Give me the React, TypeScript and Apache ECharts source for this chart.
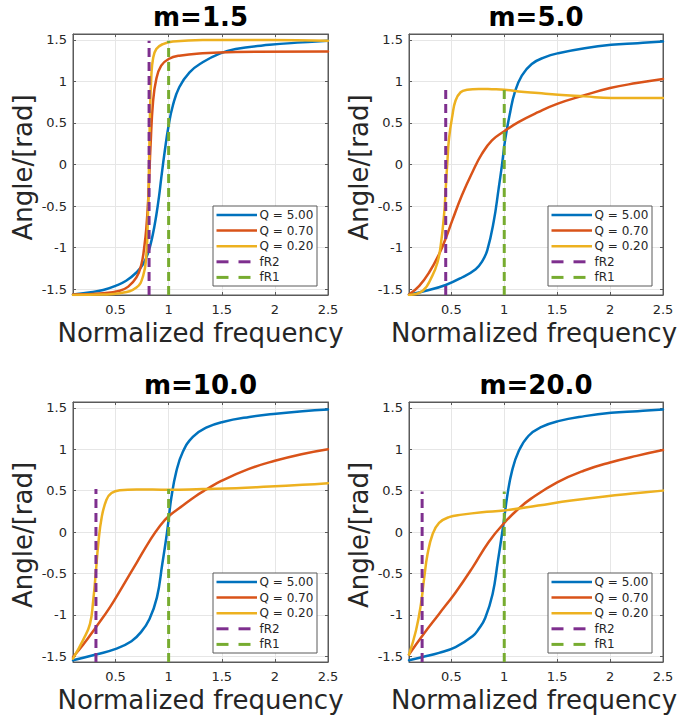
import React, { useEffect, useRef } from "react";
import * as echarts from "echarts";

// ---------- data ----------
const TITLES = ["m=1.5", "m=5.0", "m=10.0", "m=20.0"];
const Q_LABELS = ["Q = 5.00", "Q = 0.70", "Q = 0.20"];
const MARKER_LABELS = ["fR2", "fR1"];
const X_LABEL = "Normalized frequency";
const Y_LABEL = "Angle/[rad]";
const X_TICKS = [0.5, 1, 1.5, 2, 2.5];
const Y_TICKS = [-1.5, -1, -0.5, 0, 0.5, 1, 1.5];
const X_RANGE = [0.1, 2.5];
const Y_RANGE = [-1.5708, 1.5708];
const FR2 = [0.816, 0.447, 0.316, 0.224];
const FR1 = [1, 1, 1, 1];
const MARKER_TOP = [1.49, 0.9, 0.52, 0.49];

// m = 1.5
const M15_Q500 = [[0.1,-1.564],[0.25,-1.54],[0.384,-1.51],[0.5,-1.46],[0.6,-1.4],[0.697,-1.3],[0.76,-1.2],[0.81,-1.05],[0.85,-0.85],[0.884,-0.61],[0.91,-0.38],[0.93,-0.17],[0.9625,0.15],[1.0,0.47],[1.04,0.71],[1.1,0.93],[1.197,1.11],[1.32,1.23],[1.48,1.335],[1.63,1.39],[1.95,1.44],[2.26,1.47],[2.5,1.49]];
const M15_Q070 = [[0.1,-1.566],[0.384,-1.55],[0.54,-1.52],[0.62,-1.47],[0.697,-1.36],[0.744,-1.2],[0.77,-1.0],[0.79,-0.77],[0.81,-0.37],[0.83,0.23],[0.853,0.75],[0.884,1.03],[0.93,1.19],[1.0,1.27],[1.1,1.31],[1.32,1.34],[1.63,1.355],[2.5,1.36]];
const M15_Q020 = [[0.1,-1.57],[0.384,-1.565],[0.54,-1.55],[0.697,-1.48],[0.76,-1.34],[0.79,-1.1],[0.806,-0.57],[0.816,0.03],[0.825,0.63],[0.8375,1.07],[0.853,1.27],[0.884,1.39],[0.947,1.45],[1.04,1.48],[1.32,1.5],[1.95,1.5],[2.5,1.49]];

// m = 5.0
const M5_Q500 = [[0.1,-1.565],[0.26,-1.52],[0.447,-1.45],[0.6,-1.36],[0.73,-1.26],[0.79,-1.17],[0.84,-1.03],[0.9,-0.69],[0.947,-0.29],[0.978,-0.01],[1.01,0.31],[1.056,0.63],[1.1,0.87],[1.166,1.07],[1.26,1.21],[1.38,1.29],[1.51,1.34],[1.76,1.4],[2.01,1.44],[2.26,1.46],[2.5,1.48]];
const M5_Q070 = [[0.1,-1.565],[0.197,-1.46],[0.29,-1.3],[0.384,-1.08],[0.447,-0.89],[0.51,-0.67],[0.6,-0.37],[0.7,-0.09],[0.79,0.13],[0.884,0.29],[1.0,0.4],[1.134,0.51],[1.32,0.63],[1.5,0.73],[1.75,0.83],[2.0,0.92],[2.25,0.98],[2.5,1.03]];
const M5_Q020 = [[0.1,-1.57],[0.23,-1.52],[0.32,-1.34],[0.369,-1.18],[0.4,-0.97],[0.431,-0.61],[0.447,-0.29],[0.4625,0.03],[0.478,0.31],[0.51,0.59],[0.54,0.77],[0.5875,0.87],[0.65,0.9],[0.76,0.91],[0.884,0.906],[1.0,0.9],[1.134,0.88],[1.32,0.86],[1.51,0.84],[1.76,0.82],[2.01,0.8],[2.5,0.8]];

// m = 10.0
const M10_Q500 = [[0.1,-1.55],[0.316,-1.48],[0.51,-1.41],[0.65,-1.32],[0.74,-1.21],[0.82,-1.05],[0.89,-0.79],[0.94,-0.39],[0.978,-0.07],[1.0,0.15],[1.025,0.41],[1.072,0.73],[1.134,0.97],[1.228,1.15],[1.353,1.26],[1.51,1.33],[1.76,1.39],[2.01,1.43],[2.26,1.46],[2.5,1.48]];
const M10_Q070 = [[0.1,-1.51],[0.197,-1.36],[0.316,-1.15],[0.447,-0.91],[0.57,-0.65],[0.7,-0.37],[0.82,-0.11],[0.916,0.07],[1.0,0.19],[1.134,0.32],[1.25,0.43],[1.35,0.51],[1.5,0.62],[1.75,0.76],[2.0,0.86],[2.25,0.94],[2.5,1.0]];
const M10_Q020 = [[0.1,-1.53],[0.197,-1.3],[0.26,-1.11],[0.29,-0.83],[0.316,-0.47],[0.3375,-0.15],[0.369,0.17],[0.415,0.39],[0.4625,0.47],[0.54,0.505],[0.7,0.515],[1.0,0.51],[1.32,0.52],[1.634,0.53],[1.95,0.55],[2.26,0.57],[2.5,0.59]];

// m = 20.0
const M20_Q500 = [[0.1,-1.55],[0.228,-1.51],[0.384,-1.46],[0.54,-1.39],[0.7,-1.26],[0.76,-1.17],[0.82,-1.04],[0.89,-0.75],[0.94,-0.35],[0.978,-0.03],[1.0,0.17],[1.03,0.45],[1.072,0.73],[1.134,0.97],[1.228,1.16],[1.353,1.27],[1.51,1.34],[1.76,1.4],[2.01,1.44],[2.26,1.46],[2.5,1.48]];
const M20_Q070 = [[0.1,-1.48],[0.228,-1.25],[0.384,-0.99],[0.54,-0.73],[0.7,-0.43],[0.853,-0.12],[1.0,0.11],[1.134,0.28],[1.25,0.4],[1.5,0.6],[1.75,0.74],[2.0,0.84],[2.25,0.92],[2.5,0.99]];
const M20_Q020 = [[0.1,-1.48],[0.166,-1.19],[0.213,-0.87],[0.244,-0.55],[0.275,-0.27],[0.322,-0.03],[0.384,0.11],[0.478,0.18],[0.6,0.21],[0.79,0.24],[1.0,0.26],[1.32,0.32],[1.634,0.38],[1.95,0.43],[2.26,0.47],[2.5,0.5]];

const CURVES = [
  [M15_Q500, M15_Q070, M15_Q020],
  [M5_Q500, M5_Q070, M5_Q020],
  [M10_Q500, M10_Q070, M10_Q020],
  [M20_Q500, M20_Q070, M20_Q020],
];

// ---------- style / layout ----------
const COLORS = ["#0072BD", "#D95319", "#EDB120"];
const MARKER_COLORS = ["#7E2F8E", "#77AC30"];
const FONT = '"DejaVu Sans", "Noto Sans", sans-serif';
const GRIDS = [
  { l: 73, t: 34, w: 255, h: 261 },
  { l: 409, t: 34, w: 254, h: 261 },
  { l: 73, t: 402, w: 255, h: 260 },
  { l: 409, t: 402, w: 254, h: 260 },
];
const AXIS_COLOR = "#5a5a5a";
const TEXT_COLOR = "#262626";
const GRID_COLOR = "#e6e6e6";

export default function App() {
  const ref = useRef<HTMLDivElement>(null);

  useEffect(() => {
    if (!ref.current) return;
    const chart = echarts.init(ref.current, undefined, { renderer: "svg" });

    const grid: any[] = [];
    const xAxis: any[] = [];
    const yAxis: any[] = [];
    const series: any[] = [];
    const graphic: any[] = [];

    GRIDS.forEach((g, p) => {
      grid.push({ left: g.l, top: g.t, width: g.w, height: g.h, show: true, borderColor: AXIS_COLOR, borderWidth: 1, backgroundColor: "#fff" });
      const common = {
        gridIndex: p,
        type: "value",
        axisLine: { show: true, onZero: false, lineStyle: { color: AXIS_COLOR, width: 1 } },
      };
      xAxis.push({
        ...common,
        position: "bottom",
        min: X_RANGE[0],
        max: X_RANGE[1],
        axisTick: { show: true, inside: true, length: 3, customValues: X_TICKS, lineStyle: { color: AXIS_COLOR } },
        axisLabel: { show: true, customValues: X_TICKS, margin: 8, color: TEXT_COLOR, fontSize: 13, fontFamily: FONT, formatter: (v: number) => String(v) },
        splitLine: { show: true, lineStyle: { color: GRID_COLOR, width: 1 } },
      });
      xAxis.push({
        ...common,
        position: "top",
        min: X_RANGE[0],
        max: X_RANGE[1],
        axisTick: { show: true, inside: true, length: 3, customValues: X_TICKS, lineStyle: { color: AXIS_COLOR } },
        axisLabel: { show: false },
        splitLine: { show: false },
      });
      yAxis.push({
        ...common,
        position: "left",
        min: Y_RANGE[0],
        max: Y_RANGE[1],
        axisTick: { show: true, inside: true, length: 3, customValues: Y_TICKS, lineStyle: { color: AXIS_COLOR } },
        axisLabel: { show: true, customValues: Y_TICKS, margin: 6, color: TEXT_COLOR, fontSize: 13, fontFamily: FONT, formatter: (v: number) => String(v) },
        splitLine: { show: true, lineStyle: { color: GRID_COLOR, width: 1 } },
      });
      yAxis.push({
        ...common,
        position: "right",
        min: Y_RANGE[0],
        max: Y_RANGE[1],
        axisTick: { show: true, inside: true, length: 3, customValues: Y_TICKS, lineStyle: { color: AXIS_COLOR } },
        axisLabel: { show: false },
        splitLine: { show: false },
      });

      CURVES[p].forEach((data, i) => {
        series.push({
          type: "line",
          name: Q_LABELS[i],
          xAxisIndex: p * 2,
          yAxisIndex: p * 2,
          data,
          showSymbol: false,
          smooth: 0.45,
          lineStyle: { color: COLORS[i], width: 2.5, cap: "round", join: "round" },
          itemStyle: { color: COLORS[i] },
          z: 3,
        });
      });
      [FR2[p], FR1[p]].forEach((xv, i) => {
        series.push({
          type: "line",
          name: MARKER_LABELS[i],
          xAxisIndex: p * 2,
          yAxisIndex: p * 2,
          data: [[xv, Y_RANGE[0]], [xv, MARKER_TOP[p]]],
          showSymbol: false,
          lineStyle: { color: MARKER_COLORS[i], width: 3, type: [9, 5] },
          itemStyle: { color: MARKER_COLORS[i] },
          z: 4,
        });
      });

      const cx = g.l + g.w / 2;
      const cy = g.t + g.h / 2;
      // title
      graphic.push({
        type: "text",
        x: cx,
        y: g.t - 17,
        z: 100,
        style: { text: TITLES[p], font: `bold 26px ${FONT}`, fill: "#000", textAlign: "center", textVerticalAlign: "middle" },
      });
      // x label
      graphic.push({
        type: "text",
        x: p % 2 === 1 ? cx - 2 : cx,
        y: g.t + g.h + 38,
        z: 100,
        style: { text: X_LABEL, font: `26px ${FONT}`, fill: TEXT_COLOR, textAlign: "center", textVerticalAlign: "middle" },
      });
      // y label
      graphic.push({
        type: "text",
        x: g.l - 50,
        y: cy + 3,
        z: 100,
        rotation: Math.PI / 2,
        style: { text: Y_LABEL, font: `26px ${FONT}`, fill: TEXT_COLOR, textAlign: "center", textVerticalAlign: "middle" },
      });
      // legend
      const L = g.l + g.w - 115;
      const T = g.t + g.h - 89;
      graphic.push({ type: "rect", z: 100, shape: { x: L, y: T, width: 104, height: 80 }, style: { fill: "#fff", stroke: AXIS_COLOR, lineWidth: 1 } });
      const labels = [...Q_LABELS, ...MARKER_LABELS];
      const cols = [...COLORS, ...MARKER_COLORS];
      labels.forEach((lab, i) => {
        const yy = T + 9 + i * 15.6;
        if (i < 3) {
          graphic.push({ type: "line", z: 101, shape: { x1: L + 3.5, y1: yy, x2: L + 44, y2: yy }, style: { stroke: cols[i], lineWidth: 2.5 } });
        } else {
          graphic.push({ type: "line", z: 101, shape: { x1: L + 3.5, y1: yy, x2: L + 15.5, y2: yy }, style: { stroke: cols[i], lineWidth: 3 } });
          graphic.push({ type: "line", z: 101, shape: { x1: L + 25.5, y1: yy, x2: L + 37.5, y2: yy }, style: { stroke: cols[i], lineWidth: 3 } });
        }
        graphic.push({
          type: "text",
          z: 101,
          x: L + 46.5,
          y: yy,
          style: { text: lab, font: `12px ${FONT}`, fill: TEXT_COLOR, textAlign: "left", textVerticalAlign: "middle" },
        });
      });
    });

    chart.setOption({
      animation: false,
      backgroundColor: "#fff",
      grid,
      xAxis,
      yAxis,
      series,
      graphic,
    });

    return () => chart.dispose();
  }, []);

  return <div ref={ref} style={{ position: "absolute", left: 0, top: 0, width: 680, height: 717 }} />;
}
